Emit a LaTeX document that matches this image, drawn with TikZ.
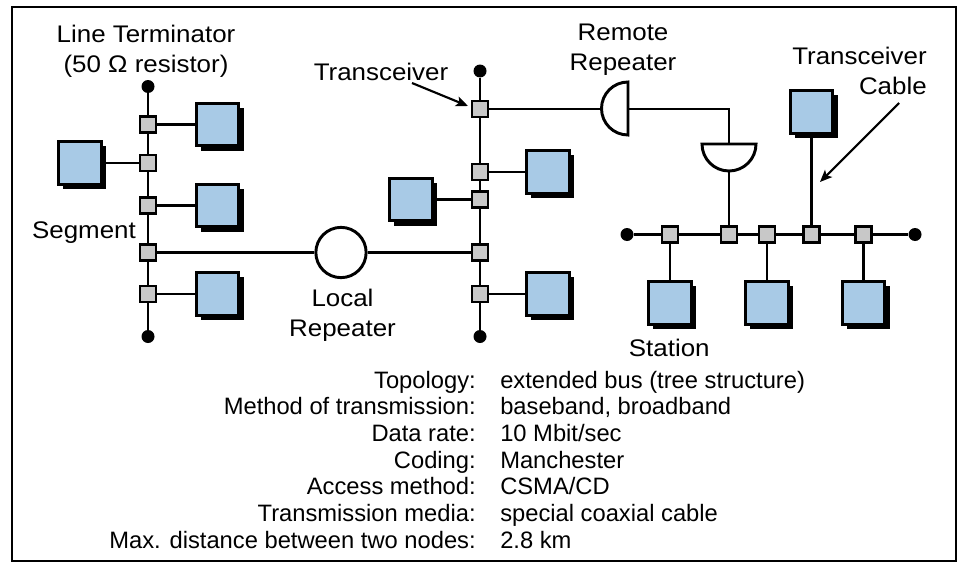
\documentclass[tikz,border=0pt]{standalone}
\usepackage{fontspec}
\setmainfont{Liberation Sans}
\newfontfamily\labelfont[FakeStretch=1.08]{Liberation Sans}
\usetikzlibrary{shadows,arrows.meta,backgrounds}
\definecolor{stblue}{RGB}{168,202,230}
\definecolor{trgray}{RGB}{200,200,200}
\begin{document}
\begin{tikzpicture}[x=0.75pt,y=-0.75pt,
  every node/.style={inner sep=0pt},
  txt/.style={font=\labelfont\fontsize{18}{22.5}\selectfont, align=center},
  keytxt/.style={font=\fontsize{17.8}{22.5}\selectfont, anchor=base east},
  valtxt/.style={font=\fontsize{17.8}{22.5}\selectfont, anchor=base west},
  station/.style={draw=black, line width=2.2pt, fill=stblue, minimum size=32pt,
    general shadow={fill=black, shadow xshift=3.6pt, shadow yshift=-3.6pt}},
  trans/.style={draw=black, line width=1.8pt, fill=trgray, minimum size=12pt},
  term/.style={circle, fill=black, minimum size=9.75pt},
  cable/.style={line width=2.2pt},
  pointer/.style={line width=1.6pt, -{Stealth[length=9pt,width=7.5pt,inset=2pt]}},
  frame/.style={line width=2.2pt}
]
\useasboundingbox (0,0) rectangle (960,564);
\draw[frame] (12,7) rectangle (956,561);

% left segment
\node[term] (La) at (148,86.5) {};
\node[term] (Lb) at (148,336.5) {};
\node[trans] (L1) at (148,124.5) {};
\node[trans] (L2) at (148,163) {};
\node[trans] (L3) at (148,205.5) {};
\node[trans] (L4) at (148,252.5) {};
\node[trans] (L5) at (148,294) {};
\node[station] (S1) at (217.5,124.5) {};
\node[station] (S2) at (80,163) {};
\node[station] (S3) at (217.5,205.5) {};
\node[station] (S4) at (217.5,294) {};

% local repeater
\node[circle, draw=black, line width=2.2pt, fill=white, minimum size=37.7pt] (LR) at (341,252.5) {};

% middle segment
\node[term] (Ma) at (480,71) {};
\node[term] (Mb) at (480,336.5) {};
\node[trans] (M1) at (480,109) {};
\node[trans] (M2) at (480,172) {};
\node[trans] (M3) at (480,199.5) {};
\node[trans] (M4) at (480,252.5) {};
\node[trans] (M5) at (480,294) {};
\node[station] (S5) at (548,172) {};
\node[station] (S6) at (411,199.5) {};
\node[station] (S7) at (548,294) {};

% right segment
\node[term] (Ba) at (627,234.5) {};
\node[term] (Bb) at (915,234.5) {};
\node[trans] (B1) at (670,234.5) {};
\node[trans] (B2) at (729,234.5) {};
\node[trans] (B3) at (767,234.5) {};
\node[trans] (B4) at (811.5,234.5) {};
\node[trans] (B5) at (863.5,234.5) {};
\node[station] (S8) at (670,303) {};
\node[station] (S9) at (767,303) {};
\node[station] (S10) at (863.5,303) {};
\node[station] (S11) at (811.5,112) {};

% remote repeater halves
\draw[cable, fill=white] (628,82) arc[start angle=270, end angle=90, radius=26.5] -- cycle;
\draw[cable, fill=white] (756,144) arc[start angle=0, end angle=180, radius=27] -- cycle;

\begin{scope}[on background layer]
  \draw[cable] (La) -- (Lb);
  \draw[cable] (Ma) -- (Mb);
  \draw[cable] (Ba) -- (Bb);
  \draw[cable] (L1) -- (S1);
  \draw[cable] (L2) -- (S2);
  \draw[cable] (L3) -- (S3);
  \draw[cable] (L5) -- (S4);
  \draw[cable] (L4) -- (LR) -- (M4);
  \draw[cable] (M2) -- (S5);
  \draw[cable] (M3) -- (S6);
  \draw[cable] (M5) -- (S7);
  \draw[cable] (M1) -| (B2);
  \draw[cable] (B1) -- (S8);
  \draw[cable] (B3) -- (S9);
  \draw[cable] (B5) -- (S10);
  \draw[cable] (B4) -- (S11);
\end{scope}

% labels
\node[txt, anchor=north] (tLT) at (146,24.5) {Line Terminator\\(50 Ω resistor)};
\node[txt, anchor=base] (tSeg) at (84,238.3) {Segment};
\node[txt, anchor=north] (tLR) at (342.5,288.8) {Local\\Repeater};
\node[txt, anchor=base] (tTr) at (381,80) {Transceiver};
\node[txt, anchor=north] (tRR) at (623,23.5) {Remote\\Repeater};
\node[txt, anchor=north east, align=right] (tTC) at (927,46.8) {Transceiver\\Cable};
\node[txt, anchor=base] (tSt) at (669.3,356.7) {Station};

% pointers
\coordinate (A1s) at (412,83);
\coordinate (A1e) at (468,106);
\draw[pointer] (A1s) -- (A1e);
\coordinate (A2s) at (899,103);
\coordinate (A2e) at (820,182);
\draw[pointer] (A2s) -- (A2e);

% table
\node[keytxt] (k1) at (476,388) {Topology:};
\node[valtxt] (v1) at (500,388) {extended bus (tree structure)};
\node[keytxt] (k2) at (476,414.7) {Method of transmission:};
\node[valtxt] (v2) at (500,414.7) {baseband, broadband};
\node[keytxt] (k3) at (476,441.3) {Data rate:};
\node[valtxt] (v3) at (500,441.3) {10 Mbit/sec};
\node[keytxt] (k4) at (476,468) {Coding:};
\node[valtxt] (v4) at (500,468) {Manchester};
\node[keytxt] (k5) at (476,494.7) {Access method:};
\node[valtxt] (v5) at (500,494.7) {CSMA/CD};
\node[keytxt] (k6) at (476,521.3) {Transmission media:};
\node[valtxt] (v6) at (500,521.3) {special coaxial cable};
\node[keytxt] (k7) at (476,548) {Max. distance between two nodes:};
\node[valtxt] (v7) at (500,548) {2.8 km};
\end{tikzpicture}
\end{document}
